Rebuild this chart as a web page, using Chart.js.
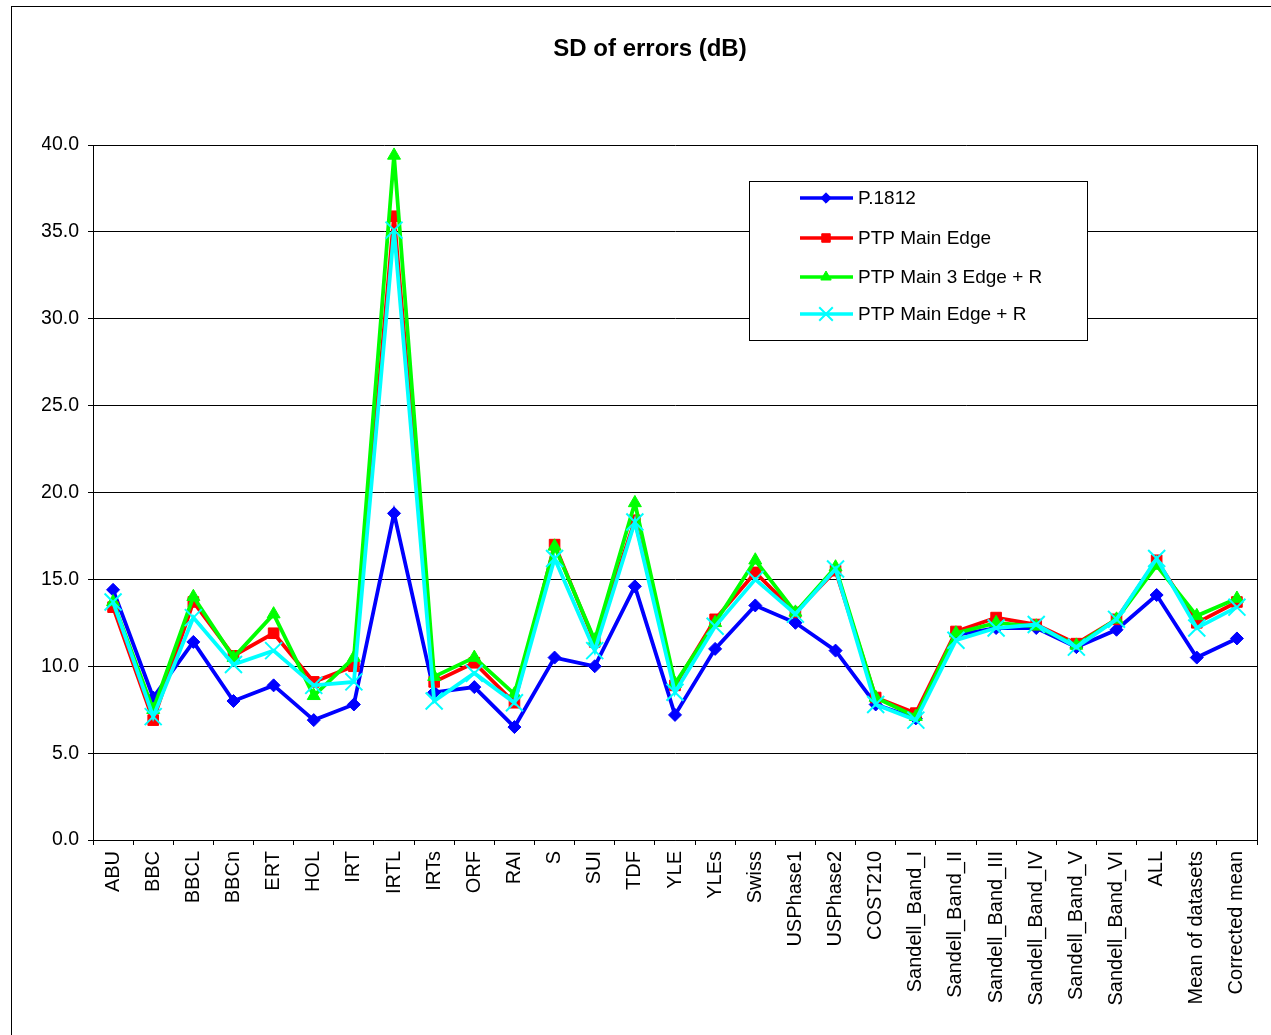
<!DOCTYPE html>
<html>
<head>
<meta charset="utf-8">
<script src="https://cdn.jsdelivr.net/npm/chart.js@4/dist/chart.umd.min.js"></script>
<style>
  html, body { margin: 0; padding: 0; background: #fff; }
  #wrap { position: relative; width: 1271px; height: 1035px; }
</style>
</head>
<body>
<div id="wrap"><canvas id="sd-chart" width="1271" height="1035"></canvas></div>
<script>
const categories = ['ABU', 'BBC', 'BBCL', 'BBCn', 'ERT', 'HOL', 'IRT', 'IRTL', 'IRTs', 'ORF', 'RAI', 'S', 'SUI', 'TDF',
  'YLE', 'YLEs', 'Swiss', 'USPhase1', 'USPhase2', 'COST210', 'Sandell_Band_I', 'Sandell_Band_II', 'Sandell_Band_III',
  'Sandell_Band_IV', 'Sandell_Band_V', 'Sandell_Band_VI', 'ALL', 'Mean of datasets', 'Corrected mean'];

const p1812 = [14.4, 8.2, 11.4, 8.0, 8.9, 6.9, 7.8, 18.8, 8.5, 8.8, 6.5, 10.5, 10.0, 14.6,
  7.2, 11.0, 13.5, 12.5, 10.9, 7.8, 7.0, 11.8, 12.2, 12.2, 11.1, 12.1, 14.1, 10.5, 11.6];
const ptpMainEdge = [13.4, 6.9, 13.7, 10.6, 11.9, 9.1, 10.0, 35.9, 9.1, 10.2, 7.9, 17.0, 11.4, 18.4,
  8.9, 12.7, 15.4, 13.1, 15.5, 8.2, 7.3, 12.0, 12.8, 12.4, 11.3, 12.7, 16.1, 12.5, 13.7];
const ptpMain3EdgeR = [13.7, 7.5, 14.0, 10.5, 13.0, 8.3, 10.5, 39.4, 9.4, 10.5, 8.4, 16.9, 11.5, 19.4,
  9.0, 12.5, 16.1, 13.1, 15.7, 8.2, 7.1, 11.9, 12.5, 12.3, 11.2, 12.7, 15.8, 12.9, 13.9];
const ptpMainEdgeR = [13.7, 7.1, 12.8, 10.1, 10.9, 8.9, 9.1, 35.1, 8.0, 9.6, 7.9, 16.2, 10.9, 18.3,
  8.5, 12.3, 15.0, 13.0, 15.6, 7.8, 6.9, 11.5, 12.2, 12.4, 11.1, 12.7, 16.2, 12.2, 13.4];

const FONT = 'Liberation Sans, Arial, sans-serif';

// outer frame + plot box + legend box (excel style)
const excelBits = {
  id: 'excelBits',
  beforeDraw(chart) {
    const ctx = chart.ctx;
    ctx.save();
    ctx.fillStyle = '#fff';
    ctx.fillRect(0, 0, chart.width, chart.height);
    ctx.strokeStyle = '#000';
    ctx.lineWidth = 1;
    ctx.strokeRect(11.5, 6.5, 1400, 1200);
    ctx.restore();
  },
  afterDatasetsDraw(chart) {
    const ctx = chart.ctx;
    const a = chart.chartArea;
    ctx.save();
    ctx.strokeStyle = '#000';
    ctx.lineWidth = 1;
    ctx.beginPath();
    ctx.moveTo(Math.round(a.right) + 0.5, a.top);
    ctx.lineTo(Math.round(a.right) + 0.5, a.bottom);
    ctx.stroke();

    // legend
    ctx.fillStyle = '#fff';
    ctx.fillRect(749, 181, 338, 159);
    ctx.strokeRect(749.5, 181.5, 338, 159);
    const rows = [198, 238, 277, 314];
    chart.data.datasets.forEach((ds, i) => {
      const y = rows[i];
      ctx.strokeStyle = ds.borderColor;
      ctx.lineWidth = 3.5;
      ctx.beginPath();
      ctx.moveTo(800, y);
      ctx.lineTo(853, y);
      ctx.stroke();
      ctx.fillStyle = ds.borderColor;
      ctx.lineWidth = ds.pointBorderWidth;
      Chart.helpers.drawPoint(ctx, {
        pointStyle: ds.pointStyle,
        radius: ds.pointRadius * 0.8,
        borderWidth: ds.pointBorderWidth,
        rotation: 0
      }, 826, y);
      ctx.fillStyle = '#000';
      ctx.font = '19px ' + FONT;
      ctx.textBaseline = 'middle';
      ctx.textAlign = 'left';
      ctx.fillText(ds.label, 858, y + 1);
    });
    ctx.restore();
  }
};

function series(label, data, color, style, radius, order) {
  return {
    label: label,
    data: data,
    borderColor: color,
    backgroundColor: color,
    pointBackgroundColor: color,
    pointBorderColor: color,
    borderWidth: 3.8,
    pointStyle: style,
    pointRadius: radius,
    pointHoverRadius: radius,
    pointBorderWidth: style === 'crossRot' ? 2 : 1,
    tension: 0,
    order: order
  };
}

new Chart(document.getElementById('sd-chart'), {
  type: 'line',
  data: {
    labels: categories,
    datasets: [
      series('P.1812', p1812, '#0000ff', 'rectRot', 6.5, 3),
      series('PTP Main Edge', ptpMainEdge, '#ff0000', 'rect', 7.5, 2),
      series('PTP Main 3 Edge + R', ptpMain3EdgeR, '#00ff00', 'triangle', 7.5, 1),
      series('PTP Main Edge + R', ptpMainEdgeR, '#00ffff', 'crossRot', 12, 0)
    ]
  },
  options: {
    responsive: false,
    animation: false,
    layout: { padding: { left: 42, right: 13, top: 0, bottom: 0 } },
    plugins: {
      legend: { display: false },
      tooltip: { enabled: false },
      title: {
        display: true,
        text: 'SD of errors (dB)',
        color: '#000',
        font: { family: FONT, size: 24, weight: 'bold', lineHeight: 1.2 },
        padding: { top: 35, bottom: 81.2 }
      }
    },
    scales: {
      x: {
        offset: true,
        grid: { offset: true, drawOnChartArea: false, color: '#000', tickLength: 5, tickColor: '#000' },
        border: { color: '#000', width: 1 },
        ticks: {
          autoSkip: false, minRotation: 90, maxRotation: 90, padding: 6,
          color: '#000', font: { family: FONT, size: 20 }
        },
        afterFit(scale) { scale.height = 195; }
      },
      y: {
        min: 0,
        max: 40,
        grid: { color: '#000', tickLength: 5, tickColor: '#000' },
        border: { color: '#000', width: 1 },
        ticks: {
          stepSize: 5, padding: 9, color: '#000', font: { family: FONT, size: 19.5 },
          callback: v => v.toFixed(1)
        },
        afterFit(scale) { scale.width = 51; }
      }
    }
  },
  plugins: [excelBits]
});
</script>
</body>
</html>
